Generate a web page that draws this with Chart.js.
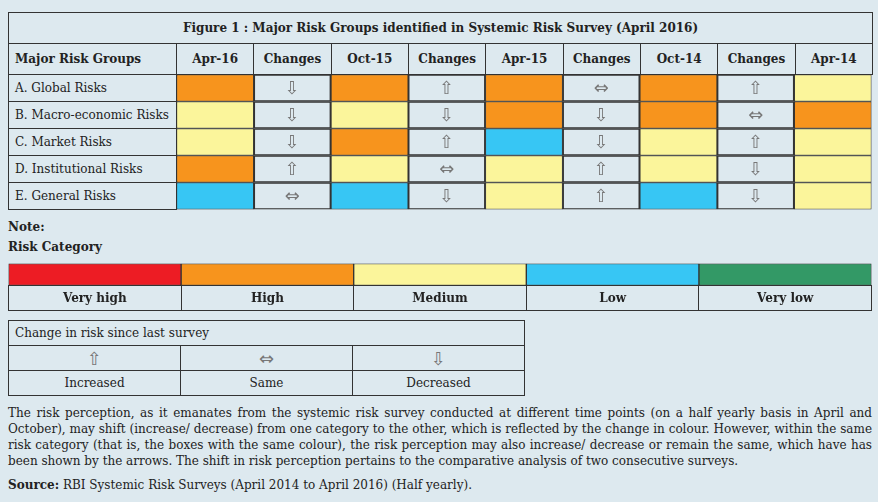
<!DOCTYPE html>
<html lang="en">
<head>
<meta charset="UTF-8">
<title>Systemic Risk Survey</title>
<script src="https://cdn.jsdelivr.net/npm/chart.js"></script>
<style>
    body { margin: 0; width: 878px; height: 502px; background: #dde9ef; font-family: "DejaVu Serif", serif; color: #222; position: relative; overflow: hidden; }
    .abs { position: absolute; }
    table { border-collapse: collapse; table-layout: fixed; }
    td { border: 1px solid #333; padding: 0 6px; font-size: 12px; white-space: nowrap; }
    #main { left: 8px; top: 12px; width: 864px; }
    #main td { height: 26px; }
    #main .title { height: 30px; text-align: center; font-weight: bold; }
    #main .hd td { height: 30px; font-weight: bold; text-align: center; }
    #main .hd td:first-child { text-align: left; }
    .b { font-weight: bold; font-size: 12px; }
    #catLabels { left: 8px; top: 285px; width: 864px; }
    #catLabels td { height: 24px; text-align: center; font-weight: bold; }
    #chg { left: 8px; top: 320px; width: 517px; }
    #chg td { height: 24px; text-align: center; }
    #chg .arr { font-family: "DejaVu Sans"; color: #777; font-size: 18px; }
    p { margin: 0; font-size: 12px; line-height: 16px; text-align: justify; }
</style>
</head>
<body>
<table id="main" class="abs">
    <colgroup id="cols"><col style="width:168px"></colgroup>
    <tr><td class="title" colspan="10">Figure 1 : Major Risk Groups identified in Systemic Risk Survey (April 2016)</td></tr>
    <tr class="hd" id="hdrow"><td>Major Risk Groups</td></tr>
</table>
<canvas id="grid" class="abs" style="left:176px; top:74px;" width="696" height="136"></canvas>
<div class="abs b" style="left:8px; top:220px;">Note:</div>
<div class="abs b" style="left:8px; top:240px;">Risk Category</div>
<canvas id="cat" class="abs" style="left:8px; top:263px;" width="864" height="23"></canvas>
<table id="catLabels" class="abs"><tr id="catrow"></tr></table>
<table id="chg" class="abs">
    <tr><td colspan="3" style="text-align:left">Change in risk since last survey</td></tr>
    <tr><td class="arr">⇧</td><td class="arr">⇔</td><td class="arr">⇩</td></tr>
    <tr><td>Increased</td><td>Same</td><td>Decreased</td></tr>
</table>
<div class="abs" style="left:8px; top:405px; width:864px;">
    <p>The risk perception, as it emanates from the systemic risk survey conducted at different time points (on a half yearly basis in April and October), may shift (increase/ decrease) from one category to the other, which is reflected by the change in colour. However, within the same risk category (that is, the boxes with the same colour), the risk perception may also increase/ decrease or remain the same, which have has been shown by the arrows. The shift in risk perception pertains to the comparative analysis of two consecutive surveys.</p>
    <p style="margin-top:8px"><b>Source:</b> RBI Systemic Risk Surveys (April 2014 to April 2016) (Half yearly).</p>
</div>
<script>
const groups = ['A. Global Risks', 'B. Macro-economic Risks', 'C. Market Risks', 'D. Institutional Risks', 'E. General Risks'];
const columns = ['Apr-16', 'Changes', 'Oct-15', 'Changes', 'Apr-15', 'Changes', 'Oct-14', 'Changes', 'Apr-14'];
// risk level per survey: VH, H, M, L, VL
const apr16 = ['H', 'M', 'M', 'H', 'L'];
const oct15 = ['H', 'M', 'H', 'M', 'L'];
const apr15 = ['H', 'H', 'L', 'M', 'M'];
const oct14 = ['H', 'H', 'M', 'M', 'L'];
const apr14 = ['M', 'H', 'M', 'M', 'M'];
// change between surveys: up, same, down
const chg1 = ['down', 'down', 'down', 'up', 'same'];
const chg2 = ['up', 'down', 'up', 'same', 'down'];
const chg3 = ['same', 'down', 'down', 'up', 'up'];
const chg4 = ['up', 'same', 'up', 'down', 'down'];
const categories = ['Very high', 'High', 'Medium', 'Low', 'Very low'];
const categoryKeys = ['VH', 'H', 'M', 'L', 'VL'];
const categoryColors = ['#ed1c24', '#f7941d', '#fbf59b', '#37c6f4', '#339966'];
const arrows = { up: '⇧', same: '⇔', down: '⇩' };

const hdrow = document.getElementById('hdrow');
const cols = document.getElementById('cols');
columns.forEach(c => {
    const col = document.createElement('col'); col.style.width = (696 / 9) + 'px'; cols.appendChild(col);
    const td = document.createElement('td'); td.textContent = c; hdrow.appendChild(td);
});
groups.forEach(g => {
    const tr = document.createElement('tr');
    const td = document.createElement('td'); td.textContent = g; tr.appendChild(td);
    const rest = document.createElement('td'); rest.colSpan = 9; rest.style.border = 'none'; tr.appendChild(rest);
    document.getElementById('main').appendChild(tr);
});
const catrow = document.getElementById('catrow');
categories.forEach(c => { const td = document.createElement('td'); td.textContent = c; catrow.appendChild(td); });

const colColor = k => categoryColors[categoryKeys.indexOf(k)];
const series = [apr16, chg1, oct15, chg2, apr15, chg3, oct14, chg4, apr14];
const datasets = series.map((s, i) => ({
    data: groups.map(() => [i, i + 1]),
    backgroundColor: i % 2 === 0 ? s.map(colColor) : 'rgba(0,0,0,0)',
    arrows: i % 2 === 1 ? s : null,
    borderColor: '#333', borderWidth: 1, borderSkipped: false,
    barPercentage: 1, categoryPercentage: 1, grouped: false
}));

const arrowPlugin = {
    id: 'arrowText',
    afterDatasetsDraw(chart) {
        const ctx = chart.ctx;
        ctx.save();
        ctx.font = '18px "DejaVu Sans"';
        ctx.fillStyle = '#777';
        ctx.textAlign = 'center';
        ctx.textBaseline = 'middle';
        chart.data.datasets.forEach((ds, di) => {
            if (!ds.arrows) return;
            chart.getDatasetMeta(di).data.forEach((bar, j) => {
                const p = bar.getCenterPoint();
                ctx.fillText(arrows[ds.arrows[j]], p.x, p.y + 1);
            });
        });
        ctx.restore();
    }
};

const baseOpts = (max) => ({
    indexAxis: 'y', responsive: false, animation: false,
    layout: { padding: { top: 0.5, bottom: 0.5, left: 0.5, right: 0.5 } },
    plugins: { legend: { display: false }, tooltip: { enabled: false } },
    scales: { x: { type: 'linear', min: 0, max: max, display: false }, y: { display: false } }
});

new Chart(document.getElementById('grid'), {
    type: 'bar',
    data: { labels: groups, datasets: datasets },
    options: baseOpts(9),
    plugins: [arrowPlugin]
});

new Chart(document.getElementById('cat'), {
    type: 'bar',
    data: {
        labels: ['Risk Category'],
        datasets: categories.map((c, i) => ({
            data: [[i, i + 1]], backgroundColor: categoryColors[i],
            borderColor: '#333', borderWidth: 1, borderSkipped: false,
            barPercentage: 1, categoryPercentage: 1, grouped: false
        }))
    },
    options: baseOpts(5)
});
</script>
</body>
</html>
